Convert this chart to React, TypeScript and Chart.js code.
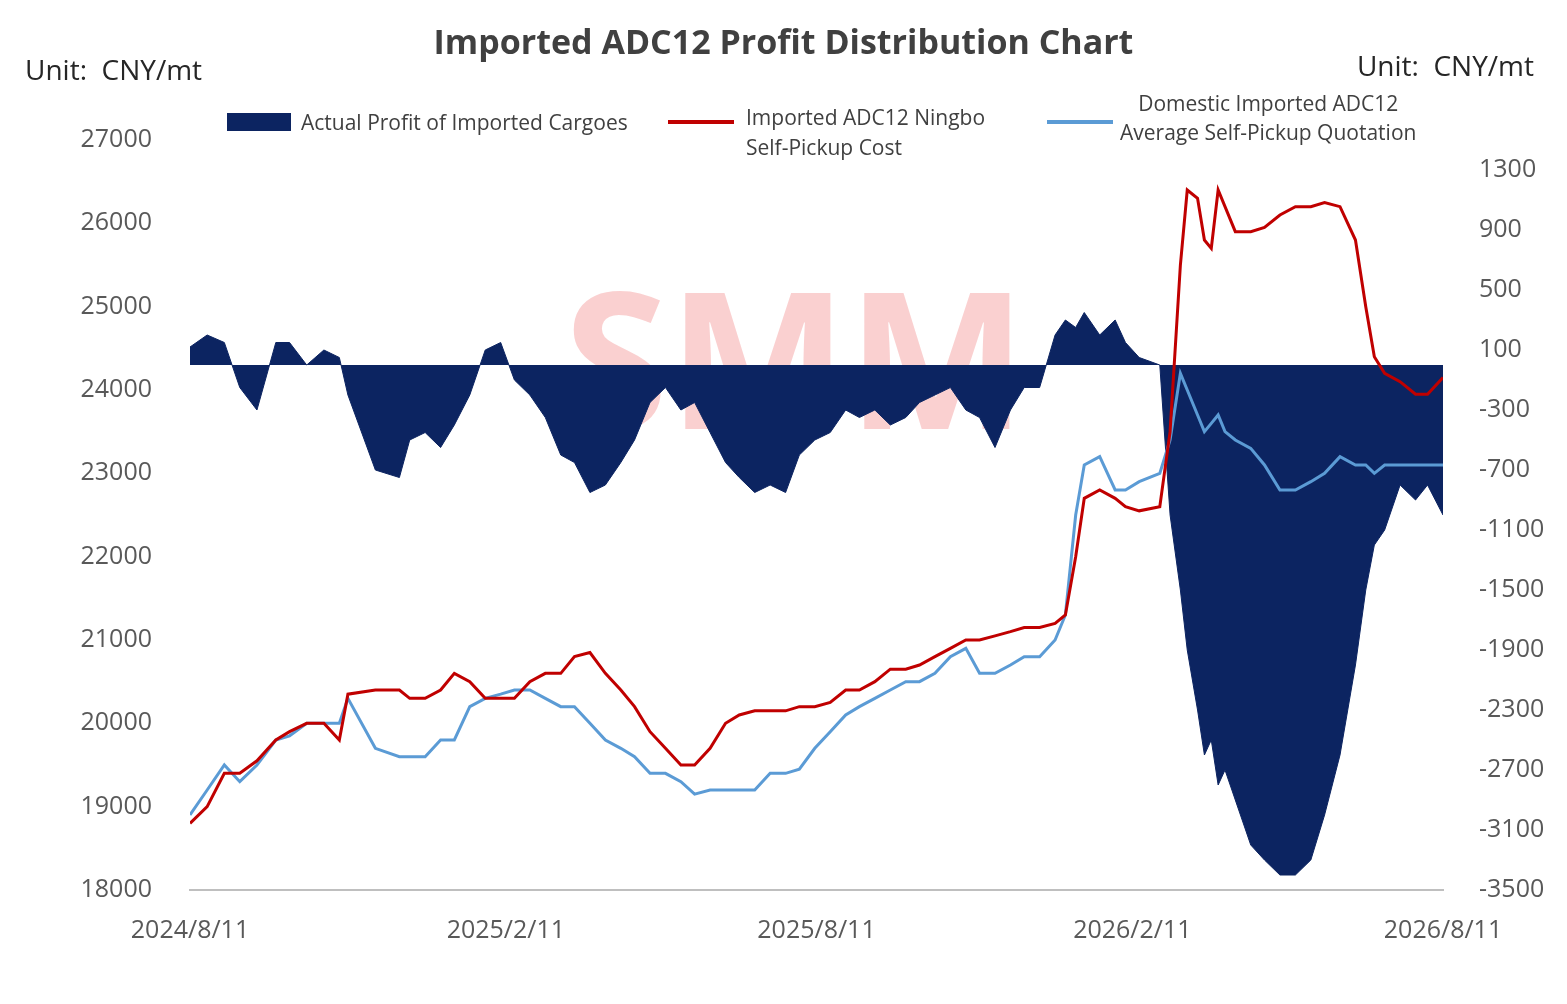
import React, { useEffect, useRef } from "react";
import { Chart, registerables } from "chart.js";
Chart.register(...registerables);

const days = [0,10,20,29,39,50,58,68,78,87,92,108,122,128,137,146,154,163,172,181,189,198,207,216,224,233,242,251,259,268,277,286,294,303,312,320,329,338,347,355,364,373,382,390,399,408,417,425,434,443,452,460,469,478,486,495,504,510,516,521,530,539,545,553,565,571,577,581,587,591,595,599,603,609,618,626,635,644,653,661,670,679,685,690,696,705,714,721,730];
const ningboCost = [18800,19000,19400,19400,19550,19800,19900,20000,20000,19800,20350,20400,20400,20300,20300,20400,20600,20500,20300,20300,20300,20500,20600,20600,20800,20850,20600,20400,20200,19900,19700,19500,19500,19700,20000,20100,20150,20150,20150,20200,20200,20250,20400,20400,20500,20650,20650,20700,20800,20900,21000,21000,21050,21100,21150,21150,21200,21300,22000,22700,22800,22700,22600,22550,22600,23500,25500,26400,26300,25800,25700,26400,26200,25900,25900,25950,26100,26200,26200,26250,26200,25800,25000,24400,24200,24100,23950,23950,24150];
const domesticQuote = [18900,19200,19500,19300,19500,19800,19850,20000,20000,20000,20300,19700,19600,19600,19600,19800,19800,20200,20300,20350,20400,20400,20300,20200,20200,20000,19800,19700,19600,19400,19400,19300,19150,19200,19200,19200,19200,19400,19400,19450,19700,19900,20100,20200,20300,20400,20500,20500,20600,20800,20900,20600,20600,20700,20800,20800,21000,21300,22500,23100,23200,22800,22800,22900,23000,23400,24200,24000,23700,23500,23600,23700,23500,23400,23300,23100,22800,22800,22900,23000,23200,23100,23100,23000,23100,23100,23100,23100,23100];
const actualProfit = [120,200,150,-150,-300,150,150,0,100,50,-200,-700,-750,-500,-450,-550,-400,-200,100,150,-100,-200,-350,-600,-650,-850,-800,-650,-500,-250,-150,-300,-250,-450,-650,-750,-850,-800,-850,-600,-500,-450,-300,-350,-300,-400,-350,-250,-200,-150,-300,-350,-550,-300,-150,-150,200,300,250,350,200,300,150,50,0,-1000,-1500,-1900,-2300,-2600,-2500,-2800,-2700,-2900,-3200,-3300,-3400,-3400,-3300,-3000,-2600,-2000,-1500,-1200,-1100,-800,-900,-800,-1000];
const xTickDays = [0,184,365,549,730];
const xTickLabels = ["2024/8/11","2025/2/11","2025/8/11","2026/2/11","2026/8/11"];
const leftTicks = [18000,19000,20000,21000,22000,23000,24000,25000,26000,27000];
const rightTicks = [-3500,-3100,-2700,-2300,-1900,-1500,-1100,-700,-300,100,500,900,1300];

const NAVY = "#0c2461";
const RED = "#c00000";
const BLUE = "#5b9bd5";
const FONT = "'Open Sans', 'Noto Sans', sans-serif";

export default function App() {
  const ref = useRef<HTMLCanvasElement>(null);
  useEffect(() => {
    const pts = (v: number[]) => v.map((y, i) => ({ x: days[i], y }));
    const watermark = {
      id: "wm",
      beforeDatasetsDraw(chart: any) {
        const c = chart.ctx;
        c.save();
        c.font = `bold 190px ${FONT}`;
        c.fillStyle = "rgba(240,120,120,0.35)";
        c.textAlign = "center";
        c.textBaseline = "middle";
        c.fillText("SMM", 795, 375);
        c.restore();
      },
    };
    const tickFont = { size: 25, family: FONT };
    const chart = new Chart(ref.current!, {
      type: "line",
      data: {
        datasets: [
          { label: "Domestic", data: pts(domesticQuote), yAxisID: "y", borderColor: BLUE, borderWidth: 3, pointRadius: 0, tension: 0, order: 1 },
          { label: "Ningbo", data: pts(ningboCost), yAxisID: "y", borderColor: RED, borderWidth: 3, pointRadius: 0, tension: 0, order: 0 },
          { label: "Profit", data: pts(actualProfit), yAxisID: "y1", borderColor: NAVY, backgroundColor: NAVY, borderWidth: 1, fill: "origin", pointRadius: 0, tension: 0, order: 2 },
        ],
      },
      plugins: [watermark],
      options: {
        animation: false,
        responsive: false,
        layout: { padding: { top: 140, left: 0, right: 0, bottom: 0 } },
        plugins: { legend: { display: false }, tooltip: { enabled: false } },
        scales: {
          x: {
            type: "linear", min: 0, max: 730,
            afterBuildTicks: (s: any) => { s.ticks = xTickDays.map((v) => ({ value: v })); },
            afterFit: (s: any) => { s.height = 114; },
            ticks: { color: "#595959", font: tickFont, maxRotation: 0, padding: 18,
              callback: (v: any) => xTickLabels[xTickDays.indexOf(Number(v))] ?? "" },
            grid: { display: false, drawOnChartArea: false, drawTicks: true, tickLength: 8, color: "#bfbfbf" },
            border: { display: true, color: "#bfbfbf", width: 2 },
          },
          y: {
            position: "left", min: 18000, max: 27000,
            afterBuildTicks: (s: any) => { s.ticks = leftTicks.map((v) => ({ value: v })); },
            afterFit: (s: any) => { s.width = 190; },
            ticks: { color: "#595959", font: tickFont, padding: 30, callback: (v: any) => String(v) },
            grid: { display: false }, border: { display: false },
          },
          y1: {
            position: "right", min: -3500, max: 1500,
            afterBuildTicks: (s: any) => { s.ticks = rightTicks.map((v) => ({ value: v })); },
            afterFit: (s: any) => { s.width = 124; },
            ticks: { color: "#595959", font: tickFont, padding: 28, callback: (v: any) => String(v) },
            grid: { display: false }, border: { display: false },
          },
        },
      },
    } as any);
    return () => chart.destroy();
  }, []);

  const txt: React.CSSProperties = { position: "absolute", fontFamily: FONT, color: "#404040", whiteSpace: "nowrap" };
  return (
    <div style={{ position: "absolute", left: 0, top: 0, width: 1567, height: 1004, background: "#fff" }}>
      <canvas ref={ref} width={1567} height={1004} style={{ position: "absolute", left: 0, top: 0 }} />
      <div style={{ ...txt, left: 0, width: 1567, top: 18, textAlign: "center", fontSize: 34, fontWeight: 700, color: "#404040" }}>Imported ADC12 Profit Distribution Chart</div>
      <div style={{ ...txt, left: 25, top: 50, fontSize: 28, color: "#262626" }}>Unit:&nbsp; CNY/mt</div>
      <div style={{ ...txt, right: 33, top: 46, fontSize: 28, color: "#262626" }}>Unit:&nbsp; CNY/mt</div>
      <div style={{ position: "absolute", left: 227, top: 113, width: 64, height: 18, background: NAVY }} />
      <div style={{ ...txt, left: 301, top: 108, fontSize: 21 }}>Actual Profit of Imported Cargoes</div>
      <div style={{ position: "absolute", left: 668, top: 120, width: 66, height: 4, background: RED }} />
      <div style={{ ...txt, left: 746, top: 102, fontSize: 21, lineHeight: "30px" }}>Imported ADC12 Ningbo<br />Self-Pickup Cost</div>
      <div style={{ position: "absolute", left: 1047, top: 120, width: 66, height: 4, background: BLUE }} />
      <div style={{ ...txt, left: 1120, top: 89, fontSize: 21, lineHeight: "29px", textAlign: "center" }}>Domestic Imported ADC12<br />Average Self-Pickup Quotation</div>
    </div>
  );
}
